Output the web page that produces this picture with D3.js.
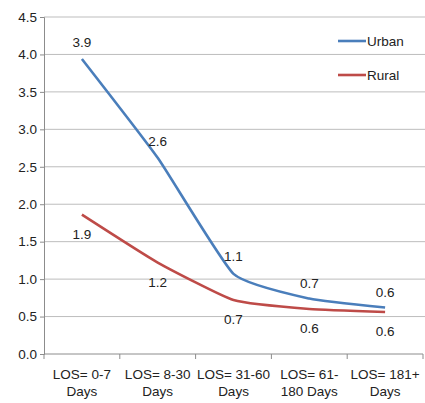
<!DOCTYPE html>
<html>
<head>
<meta charset="utf-8">
<script src="https://cdn.jsdelivr.net/npm/d3@7"></script>
<style>
  body { margin: 0; background: #fff; }
  text { font-family: "Liberation Sans Narrow", "Arial Narrow", "Liberation Sans", sans-serif; fill: #222; }
</style>
</head>
<body>
<svg id="chart" width="425" height="403"></svg>
<script>
// chart data
var categories = ['LOS= 0-7|Days', 'LOS= 8-30|Days', 'LOS= 31-60|Days', 'LOS= 61-|180 Days', 'LOS= 181+|Days'];
var urban = [3.94, 2.62, 1.07, 0.74, 0.62];
var rural = [1.86, 1.22, 0.72, 0.60, 0.56];
var yTicks = [0, 0.5, 1, 1.5, 2, 2.5, 3, 3.5, 4, 4.5];
var seriesNames = ['Urban', 'Rural'];

var colors = { Urban: '#4a7ebb', Rural: '#be4b48' };
var plot = { left: 44, right: 423, top: 17, bottom: 354 };

var svg = d3.select('#chart');

var x = d3.scaleBand().domain(d3.range(categories.length)).range([plot.left, plot.right]);
var y = d3.scaleLinear().domain([0, 4.5]).range([plot.bottom, plot.top]);
var fmt = d3.format('.1f');

// gridlines
svg.append('g')
  .selectAll('line')
  .data(yTicks.slice(1))
  .enter().append('line')
    .attr('x1', plot.left).attr('x2', plot.right + 2)
    .attr('y1', function (d) { return y(d); })
    .attr('y2', function (d) { return y(d); })
    .attr('stroke', '#bdbdbd')
    .attr('stroke-width', 1);

// y axis
var yAxis = svg.append('g')
  .attr('transform', 'translate(' + plot.left + ',0)')
  .call(d3.axisLeft(y).tickValues(yTicks).tickFormat(fmt).tickSize(4).tickPadding(3));
yAxis.select('.domain').attr('stroke', '#8c8c8c');
yAxis.selectAll('.tick line').attr('stroke', '#8c8c8c');
yAxis.selectAll('text').attr('font-size', 13.5).attr('fill', '#222');

// x axis
var xAxis = svg.append('g')
  .attr('transform', 'translate(0,' + plot.bottom + ')');
xAxis.append('line')
  .attr('x1', plot.left).attr('x2', plot.right)
  .attr('stroke', '#8c8c8c');
xAxis.selectAll('line.tk')
  .data(d3.range(categories.length + 1))
  .enter().append('line')
    .attr('class', 'tk')
    .attr('x1', function (i) { return plot.left + i * x.bandwidth(); })
    .attr('x2', function (i) { return plot.left + i * x.bandwidth(); })
    .attr('y1', 0).attr('y2', 5)
    .attr('stroke', '#8c8c8c');
xAxis.selectAll('text')
  .data(categories)
  .enter().append('text')
    .attr('text-anchor', 'middle')
    .attr('font-size', 13.5)
    .attr('transform', function (d, i) {
      return 'translate(' + (x(i) + x.bandwidth() / 2) + ',25)';
    })
    .each(function (d) {
      var t = d3.select(this);
      d.split('|').forEach(function (part, k) {
        t.append('tspan').attr('x', 0).attr('dy', k ? 17 : 0).text(part);
      });
    });

// lines
var line = d3.line()
  .x(function (d, i) { return x(i) + x.bandwidth() / 2; })
  .y(function (d) { return y(d); })
  .curve(d3.curveCardinal.tension(0.55));

var series = [
  { name: 'Urban', values: urban },
  { name: 'Rural', values: rural }
];

series.forEach(function (s) {
  svg.append('path')
    .datum(s.values)
    .attr('d', line)
    .attr('fill', 'none')
    .attr('stroke', colors[s.name])
    .attr('stroke-width', 2.6);
});

// data labels
var labelOffsets = {
  Urban: [[0, -12], [0, -12], [0, -13], [0, -11], [0, -11]],
  Rural: [[0, 24], [0, 24], [0, 24], [0, 24], [0, 24]]
};
series.forEach(function (s) {
  svg.append('g')
    .selectAll('text')
    .data(s.values)
    .enter().append('text')
      .attr('text-anchor', 'middle')
      .attr('font-size', 13.5)
      .attr('x', function (d, i) { return x(i) + x.bandwidth() / 2 + labelOffsets[s.name][i][0]; })
      .attr('y', function (d, i) { return y(d) + labelOffsets[s.name][i][1]; })
      .text(function (d) { return fmt(d); });
});

// legend
var legend = svg.append('g')
  .selectAll('g')
  .data(seriesNames)
  .enter().append('g')
    .attr('transform', function (d, i) { return 'translate(338,' + (41 + i * 34) + ')'; });
legend.append('line')
  .attr('x1', 0).attr('x2', 28)
  .attr('stroke', function (d) { return colors[d]; })
  .attr('stroke-width', 2.6);
legend.append('text')
  .attr('x', 29).attr('y', 5)
  .attr('font-size', 13.5)
  .text(function (d) { return d; });
</script>
</body>
</html>
